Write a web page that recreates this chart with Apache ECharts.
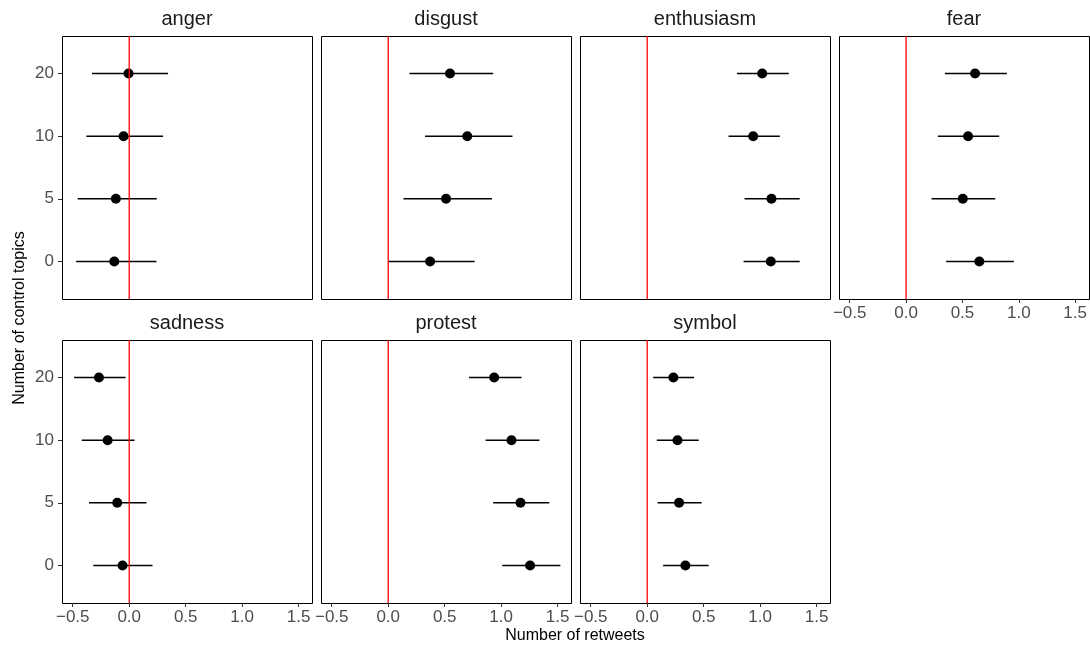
<!DOCTYPE html>
<html>
<head>
<meta charset="utf-8">
<script src="https://cdn.jsdelivr.net/npm/echarts@6/dist/echarts.min.js"></script>
<style>
  html, body { margin: 0; padding: 0; background: #fff; }
  #chart { width: 1090px; height: 645px; }
</style>
</head>
<body>
<div id="chart"></div>
<script>
// y 方向的类别（控制主题数量）
var topicLabels = ['0', '5', '10', '20'];
var xTicks = [-0.5, 0, 0.5, 1.0, 1.5];
var yTicks = [0, 1, 2, 3];
var panelNames = ['anger', 'disgust', 'enthusiasm', 'fear', 'sadness', 'protest', 'symbol'];

// 点估计及区间（顺序对应 topicLabels）
var angerEst = [-0.132, -0.118, -0.05, -0.006];
var angerLow = [-0.47, -0.456, -0.379, -0.329];
var angerHigh = [0.241, 0.244, 0.30, 0.344];

var disgustEst = [0.371, 0.512, 0.70, 0.547];
var disgustLow = [0.0, 0.135, 0.326, 0.188];
var disgustHigh = [0.765, 0.918, 1.10, 0.929];

var enthusiasmEst = [1.094, 1.10, 0.938, 1.018];
var enthusiasmLow = [0.853, 0.862, 0.72, 0.794];
var enthusiasmHigh = [1.35, 1.35, 1.174, 1.253];

var fearEst = [0.65, 0.503, 0.55, 0.612];
var fearLow = [0.356, 0.226, 0.282, 0.344];
var fearHigh = [0.956, 0.791, 0.826, 0.894];

var sadnessEst = [-0.059, -0.106, -0.191, -0.268];
var sadnessLow = [-0.318, -0.356, -0.42, -0.488];
var sadnessHigh = [0.206, 0.153, 0.047, -0.032];

var protestEst = [1.256, 1.171, 1.091, 0.938];
var protestLow = [1.009, 0.929, 0.862, 0.715];
var protestHigh = [1.524, 1.426, 1.338, 1.18];

var symbolEst = [0.338, 0.282, 0.268, 0.232];
var symbolLow = [0.141, 0.091, 0.085, 0.053];
var symbolHigh = [0.544, 0.482, 0.456, 0.415];

var estList = [angerEst, disgustEst, enthusiasmEst, fearEst, sadnessEst, protestEst, symbolEst];
var lowList = [angerLow, disgustLow, enthusiasmLow, fearLow, sadnessLow, protestLow, symbolLow];
var highList = [angerHigh, disgustHigh, enthusiasmHigh, fearHigh, sadnessHigh, protestHigh, symbolHigh];

// 面板范围（含 ggplot 默认外扩）
var X_LO = -0.595, X_HI = 1.618;
var Y_LO = -0.6, Y_HI = 3.6;
var PANEL_W = 250, PANEL_H = 263;

var FONT = '"Liberation Sans", Arial, Helvetica, sans-serif';
var chart = echarts.init(document.getElementById('chart'));

function fmtX(v) {
    var s = Math.abs(v).toFixed(1);
    return v < 0 ? '\u2212' + s : s;
}

function renderBar(params, api) {
    var y = api.value(0);
    var a = api.coord([api.value(1), y]);
    var b = api.coord([api.value(2), y]);
    return {
        type: 'line',
        shape: { x1: a[0], y1: a[1], x2: b[0], y2: b[1] },
        style: { stroke: '#000', lineWidth: 1.4 }
    };
}

// 红色参考线 x = 0，贯穿整个面板
function renderZero(params, api) {
    var a = api.coord([0, Y_LO]);
    var b = api.coord([0, Y_HI]);
    return {
        type: 'line',
        shape: { x1: a[0], y1: a[1], x2: b[0], y2: b[1] },
        style: { stroke: '#ff0000', lineWidth: 1.3 }
    };
}

var grids = [], xAxes = [], yAxes = [], series = [], graphics = [];
for (var i = 0; i < panelNames.length; i++) {
    var col = i % 4;
    var row = Math.floor(i / 4);
    var panelLeft = 62 + col * 259;
    var panelTop = row == 0 ? 36 : 340;
    var showX = (row == 1 || i == 3);
    var showY = (col == 0);

    // 面板边框
    graphics.push({
        type: 'rect', z: 0,
        shape: { x: panelLeft + 0.5, y: panelTop + 0.5, width: PANEL_W, height: PANEL_H },
        style: { fill: '#fff', stroke: '#000', lineWidth: 1 }
    });

    grids.push({
        left: panelLeft, top: panelTop, width: PANEL_W, height: PANEL_H,
        show: false
    });
    xAxes.push({
        type: 'value', gridIndex: i, min: X_LO, max: X_HI,
        axisLine: { show: false, onZero: false },
        splitLine: { show: false },
        axisTick: { show: showX, customValues: xTicks, length: 4, lineStyle: { color: '#333', width: 1 } },
        axisLabel: { show: showX, customValues: xTicks, formatter: fmtX, color: '#4d4d4d', fontSize: 17, margin: 6, fontFamily: FONT }
    });
    yAxes.push({
        type: 'value', gridIndex: i, min: Y_LO, max: Y_HI,
        axisLine: { show: false, onZero: false },
        splitLine: { show: false },
        axisTick: { show: showY, customValues: yTicks, length: 4, lineStyle: { color: '#333', width: 1 } },
        axisLabel: {
            show: showY, customValues: yTicks, color: '#4d4d4d', fontSize: 17, margin: 8, fontFamily: FONT,
            formatter: function(v) { return topicLabels[Math.round(v)] || ''; }
        }
    });

    var barData = [], pointData = [];
    for (var k = 0; k < topicLabels.length; k++) {
        barData.push([k, lowList[i][k], highList[i][k]]);
        pointData.push([estList[i][k], k]);
    }
    series.push({
        type: 'custom', xAxisIndex: i, yAxisIndex: i, z: 2,
        renderItem: renderBar,
        data: barData, silent: true
    });
    series.push({
        type: 'scatter', xAxisIndex: i, yAxisIndex: i, z: 3,
        symbol: 'circle', symbolSize: 10,
        itemStyle: { color: '#000', opacity: 1 },
        data: pointData, silent: true
    });
    series.push({
        type: 'custom', xAxisIndex: i, yAxisIndex: i, z: 4,
        renderItem: renderZero,
        data: [[0, 0]], silent: true
    });

    graphics.push({
        type: 'text', x: panelLeft + PANEL_W / 2, y: panelTop - 17,
        style: { text: panelNames[i], font: '20px ' + FONT, fill: '#1a1a1a', textAlign: 'center', textVerticalAlign: 'middle' }
    });
}

graphics.push({
    type: 'text', x: 575, y: 636,
    style: { text: 'Number of retweets', font: '16px ' + FONT, fill: '#000', textAlign: 'center', textVerticalAlign: 'middle' }
});
graphics.push({
    type: 'text', x: 20, y: 318, rotation: Math.PI / 2,
    style: { text: 'Number of control topics', font: '16px ' + FONT, fill: '#000', textAlign: 'center', textVerticalAlign: 'middle' }
});

var option = {
    backgroundColor: '#fff',
    animation: false,
    grid: grids,
    xAxis: xAxes,
    yAxis: yAxes,
    series: series,
    graphic: { elements: graphics }
};
chart.setOption(option);
</script>
</body>
</html>
